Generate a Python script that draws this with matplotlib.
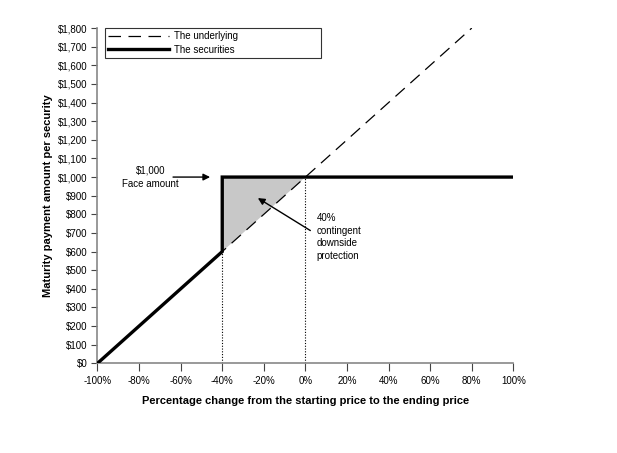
import matplotlib.pyplot as plt
import numpy as np

plt.rcParams['font.family'] = ['Liberation Sans', 'DejaVu Sans']

# percentage change of the underlying
pct_underlying = [-100, 80]
val_underlying = [0, 1800]

# payoff of the securities
pct_securities = [-100, -40, -40, 100]
val_securities = [0, 600, 1000, 1000]

# shaded protection area
pct_shade = [-40, 0]
shade_low = [600, 1000]
shade_high = [1000, 1000]

x_ticks = [-100, -80, -60, -40, -20, 0, 20, 40, 60, 80, 100]
y_ticks = list(range(0, 1801, 100))

fig = plt.figure(figsize=(6.17, 4.53), dpi=100)
ax = fig.add_axes([0.158, 0.198, 0.674, 0.740])

ax.fill_between(pct_shade, shade_low, shade_high, facecolor='#c8c8c8',
                edgecolor='none', zorder=1)

# dotted reference lines
ax.plot([-40, -40], [0, 600], color='black', lw=0.8, ls=(0, (1, 1.5)), zorder=2)
ax.plot([0, 0], [0, 1000], color='black', lw=0.8, ls=(0, (1, 1.5)), zorder=2)

ax.plot(pct_underlying, val_underlying, color='black', lw=0.9,
        ls=(0, (10, 6)), label='The underlying', zorder=3)
ax.plot(pct_securities, val_securities, color='black', lw=2.4,
        solid_joinstyle='miter', label='The securities', zorder=4)

ax.set_xlim(-100, 100)
ax.set_ylim(0, 1800)
ax.set_xticks(x_ticks)
ax.set_xticklabels([f'{t}%' for t in x_ticks])
ax.set_yticks(y_ticks)
ax.set_yticklabels([f'${t:,}' for t in y_ticks])
ax.tick_params(labelsize=7, width=0.8, color='#444444')
ax.tick_params(axis='x', length=6, pad=3)
ax.tick_params(axis='y', length=4, pad=3)
ax.spines['top'].set_visible(False)
ax.spines['right'].set_visible(False)
for s in ['left', 'bottom']:
    ax.spines[s].set_color('#888888')
    ax.spines[s].set_linewidth(1.2)
ax.margins(0)

ax.set_xlabel('Percentage change from the starting price to the ending price',
              fontsize=8, fontweight='bold', labelpad=7)
ax.set_ylabel('Maturity payment amount per security', fontsize=8,
              fontweight='bold', labelpad=4)

leg = ax.legend(loc='upper left', bbox_to_anchor=(0.018, 0.0, 0.52, 1.0),
                mode='expand', fontsize=7, frameon=True, fancybox=False,
                borderpad=0.35, handlelength=6.2, labelspacing=0.35,
                handletextpad=0.6, borderaxespad=0)
leg.get_frame().set_edgecolor('black')
leg.get_frame().set_linewidth(0.8)

# annotations
ax.annotate('', xy=(-44.5, 1000), xytext=(-65, 1000),
            arrowprops=dict(arrowstyle='-|>', color='black', lw=1,
                            mutation_scale=10))
ax.text(-74.5, 1000, '$1,000\nFace amount', fontsize=7, ha='center',
        va='center', linespacing=1.45)

ax.annotate('', xy=(-24, 895), xytext=(3.5, 705),
            arrowprops=dict(arrowstyle='-|>', color='black', lw=1,
                            mutation_scale=10))
ax.text(5.5, 805, '40%\ncontingent\ndownside\nprotection', fontsize=7,
        ha='left', va='top', linespacing=1.3)

fig.savefig('out.png', dpi=100)
